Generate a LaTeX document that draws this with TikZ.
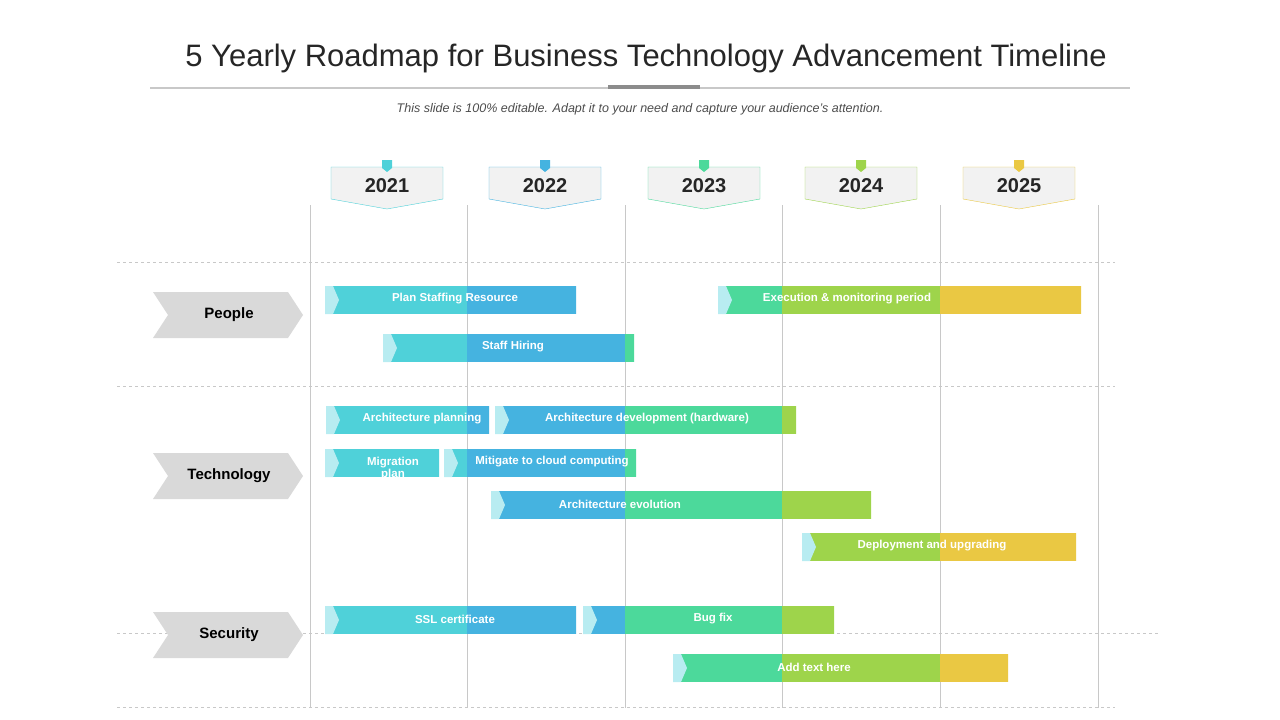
\documentclass[tikz,border=0pt]{standalone}
\usepackage{fontspec}
\setmainfont{Liberation Sans}
\definecolor{cA}{HTML}{4FD1D9}
\definecolor{cB}{HTML}{45B3E0}
\definecolor{cC}{HTML}{4CD99B}
\definecolor{cD}{HTML}{9ED44B}
\definecolor{cE}{HTML}{EAC843}
\definecolor{cL}{HTML}{B8ECF1}
\definecolor{grid}{HTML}{C8C8C8}
\newcommand{\gbar}[6]{%
 \begin{scope}
 \clip (#1,#3) rectangle (#2,#3+28);
 \fill[cA] (310,#3) rectangle (467,#3+28);
 \fill[cB] (467,#3) rectangle (625,#3+28);
 \fill[cC] (625,#3) rectangle (782,#3+28);
 \fill[cD] (782,#3) rectangle (940,#3+28);
 \fill[cE] (940,#3) rectangle (1100,#3+28);
 \fill[cL] (#1,#3) -- (#1+8,#3) -- (#1+14,#3+14) -- (#1+8,#3+28) -- (#1,#3+28) -- cycle;
 \end{scope}
 \node[bartext] (#6) at (#4,#3+13) {#5};}
\begin{document}
\begin{tikzpicture}[x=1pt,y=-1pt,
 bartext/.style={text=white,font=\fontsize{11.5}{12}\selectfont\bfseries,align=center},
 rowlab/.style={font=\fontsize{15}{16}\selectfont\bfseries},
 year/.style={font=\fontsize{20}{22}\selectfont\bfseries,text=black!85}]
\useasboundingbox (0,0) rectangle (1280,720);
\node[font=\fontsize{31}{34}\selectfont,text=black!85] (title) at (646,58) {5 Yearly Roadmap for Business Technology Advancement Timeline};
\draw[grid,line width=1.2] (150,88) -- (1130,88);
\draw[black!45,line width=4] (608,87) -- (700,87);
\node[font=\fontsize{12.5}{14}\selectfont\itshape,text=black!70] (sub) at (640,109) {This slide is 100\% editable. Adapt it to your need and capture your audience's attention.};
% grid
\foreach \x in {310,467,625,782,940,1098} \draw[grid] (\x,205) -- (\x,708);
\foreach \y/\a/\b in {262/117/1115,386/117/1115,633/117/1160,707/117/1115} \draw[grid,dashed] (\a,\y) -- (\b,\y);
% years
\foreach \cx/\yr/\c in {387/2021/cA,545/2022/cB,704/2023/cC,861/2024/cD,1019/2025/cE}{
 \fill[black!5] (\cx-56,167) -- (\cx+56,167) -- (\cx+56,199) -- (\cx,209) -- (\cx-56,199) -- cycle;
 \draw[\c] (\cx-56,167) -- (\cx+56,167) -- (\cx+56,199) -- (\cx,209) -- (\cx-56,199) -- cycle;
 \fill[\c] (\cx-5,160) rectangle (\cx+5,168) -- (\cx+5,168) -- (\cx,172) -- (\cx-5,168) -- cycle;
 \node[year] (y\yr) at (\cx,186) {\yr};
}
% row labels
\foreach \t/\nm/\cy in {People/people/315,Technology/tech/476,Security/sec/635}{
 \fill[black!15] (153,\cy-23) -- (288,\cy-23) -- (303,\cy) -- (288,\cy+23) -- (153,\cy+23) -- (168,\cy) -- cycle;
 \node[rowlab] (\nm) at (229,\cy) {\t};
}
% bars
\gbar{325}{576}{286}{455}{Plan Staffing Resource}{b1}
\gbar{383}{634}{334}{513}{Staff Hiring}{b2}
\gbar{718}{1081}{286}{847}{Execution \& monitoring period}{b3}
\gbar{326}{489}{406}{422}{Architecture planning}{b4}
\gbar{495}{796}{406}{647}{Architecture development (hardware)}{b5}
\gbar{325}{439}{449}{393}{}{b6}
\node[bartext] (b6t) at (393,469) {Migration\\plan};
\gbar{444}{636}{449}{552}{Mitigate to cloud computing}{b7}
\gbar{491}{871}{491}{620}{Architecture evolution}{b8}
\gbar{802}{1076}{533}{932}{Deployment and upgrading}{b9}
\gbar{325}{576}{606}{455}{SSL certificate}{b10}
\gbar{583}{834}{606}{713}{Bug fix}{b11}
\gbar{673}{1008}{654}{814}{Add text here}{b12}
\end{tikzpicture}
\end{document}
